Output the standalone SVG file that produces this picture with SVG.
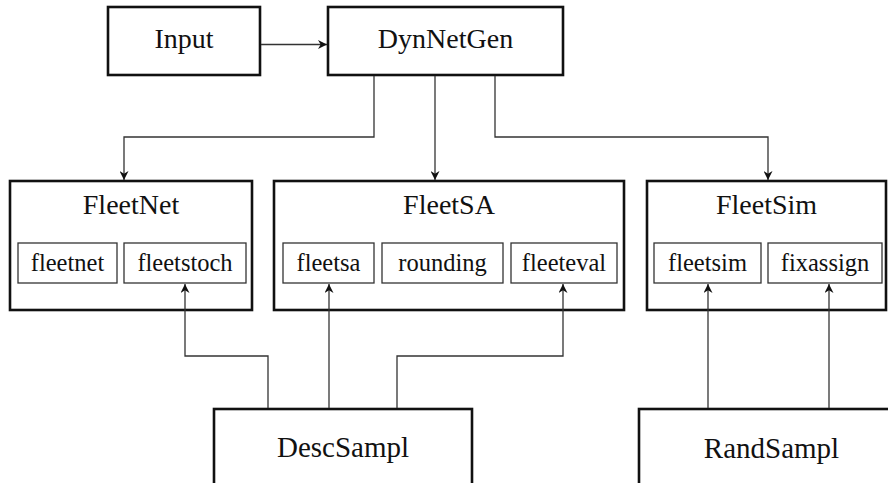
<svg xmlns="http://www.w3.org/2000/svg" width="888" height="483" viewBox="0 0 888 483">
  <style>
    .box { fill: #ffffff; stroke: #111111; stroke-width: 2.6; }
    .sub { fill: #ffffff; stroke: #333333; stroke-width: 1.3; }
    text { font-family: 'Times New Roman', 'Liberation Serif', 'DejaVu Serif', serif; fill: #111111; text-anchor: middle; }
    .title { font-size: 28px; }
    .big { font-size: 29px; }
    .label { font-size: 24.5px; }
    .wire { fill: none; stroke: #333333; stroke-width: 1.3; }
  </style>
  <defs>
    <marker id="arrow" viewBox="0 0 10 10" refX="10" refY="5" markerWidth="9" markerHeight="9" markerUnits="userSpaceOnUse" orient="auto">
      <path d="M0,0 L10,5 L0,10 L3,5 Z" fill="#111111"/>
    </marker>
  </defs>

  <rect width="888" height="483" fill="#ffffff"/>

  <g id="input">
    <rect class="box" x="108" y="7" width="152" height="68"/>
    <text class="title" x="184" y="48">Input</text>
  </g>

  <g id="dynnetgen">
    <rect class="box" x="328" y="7" width="235" height="68"/>
    <text class="title" x="445.5" y="48">DynNetGen</text>
  </g>

  <g id="fleetnet">
    <rect class="box" x="10" y="181" width="242" height="129"/>
    <text class="title" x="131" y="214">FleetNet</text>
    <g id="fleetnet-fleetnet">
      <rect class="sub" x="18" y="243" width="99" height="40"/>
      <text class="label" x="67.5" y="271">fleetnet</text>
    </g>
    <g id="fleetnet-fleetstoch">
      <rect class="sub" x="124" y="243" width="122" height="40"/>
      <text class="label" x="185" y="271">fleetstoch</text>
    </g>
  </g>

  <g id="fleetsa">
    <rect class="box" x="274" y="181" width="350" height="129"/>
    <text class="title" x="449" y="214">FleetSA</text>
    <g id="fleetsa-fleetsa">
      <rect class="sub" x="283" y="243" width="91" height="40"/>
      <text class="label" x="328.5" y="271">fleetsa</text>
    </g>
    <g id="fleetsa-rounding">
      <rect class="sub" x="382" y="243" width="121" height="40"/>
      <text class="label" x="442.5" y="271">rounding</text>
    </g>
    <g id="fleetsa-fleeteval">
      <rect class="sub" x="511" y="243" width="106" height="40"/>
      <text class="label" x="564" y="271">fleeteval</text>
    </g>
  </g>

  <g id="fleetsim">
    <rect class="box" x="647" y="181" width="239" height="129"/>
    <text class="title" x="766.5" y="214">FleetSim</text>
    <g id="fleetsim-fleetsim">
      <rect class="sub" x="654" y="243" width="107" height="40"/>
      <text class="label" x="707.5" y="271">fleetsim</text>
    </g>
    <g id="fleetsim-fixassign">
      <rect class="sub" x="768" y="243" width="114" height="40"/>
      <text class="label" x="825" y="271">fixassign</text>
    </g>
  </g>

  <g id="descsampl">
    <rect class="box" x="214" y="409" width="258" height="90"/>
    <text class="big" x="343" y="457">DescSampl</text>
  </g>

  <g id="randsampl">
    <rect class="box" x="639" y="409" width="265" height="90"/>
    <text class="big" x="771.5" y="458">RandSampl</text>
  </g>

  <!-- connectors drawn last so they reach into the module boxes -->
  <g id="connectors">
    <path class="wire" d="M261,44.5 H327" marker-end="url(#arrow)"/>
    <path class="wire" d="M374,76 V137 H124 V180" marker-end="url(#arrow)"/>
    <path class="wire" d="M435,76 V180" marker-end="url(#arrow)"/>
    <path class="wire" d="M495,76 V137 H768 V180" marker-end="url(#arrow)"/>
    <path class="wire" d="M268,408 V356 H185 V284" marker-end="url(#arrow)"/>
    <path class="wire" d="M329,408 V284" marker-end="url(#arrow)"/>
    <path class="wire" d="M397,408 V356 H563 V284" marker-end="url(#arrow)"/>
    <path class="wire" d="M708,408 V284" marker-end="url(#arrow)"/>
    <path class="wire" d="M829,408 V284" marker-end="url(#arrow)"/>
  </g>
</svg>
